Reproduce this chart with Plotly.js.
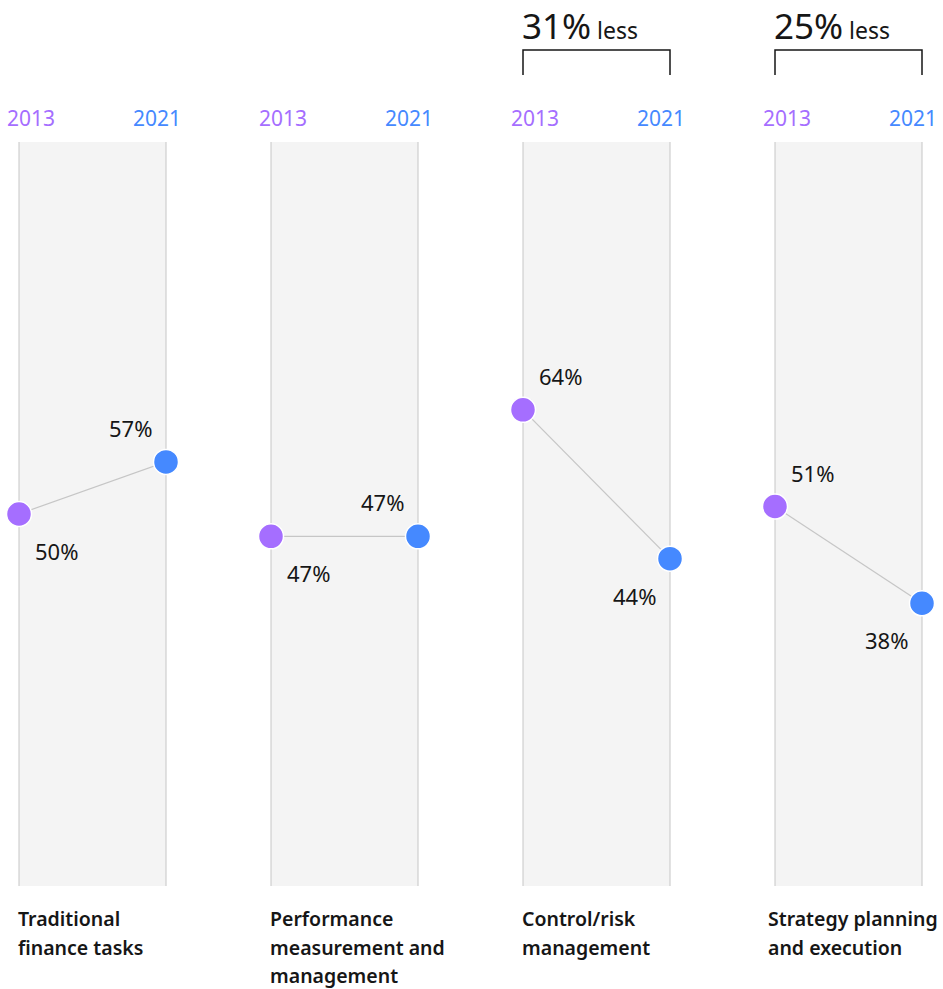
<!DOCTYPE html>
<html>
<head>
<meta charset="utf-8">
<script src="https://cdn.plot.ly/plotly-3.0.1.min.js"></script>
<style>html,body{margin:0;padding:0;background:#fff;}</style>
</head>
<body>
<div id="chart" style="width:943px;height:989px;"></div>
<script>
const categories = ['Traditional<br>finance tasks', 'Performance<br>measurement and<br>management', 'Control/risk<br>management', 'Strategy planning<br>and execution'];
const years = ['2013', '2021'];
const values2013 = [50, 47, 64, 51];
const values2021 = [57, 47, 44, 38];
const yearColors = ['#a56eff', '#4589ff'];

const FONT = 'Noto Sans, Open Sans, sans-serif';
const INK = '#161616';
const n = categories.length;
const W = 943, ML = 19, MR = 21, MT = 142, MB = 103, H = 989;
const plotW = W - ML - MR, plotH = H - MT - MB;
const panelW = 147, gap = (plotW - n * panelW) / (n - 1);

const traces = [];
const annotations = [];
const shapes = [];
const layout = {
  width: W, height: H,
  margin: {l: ML, r: MR, t: MT, b: MB, pad: 0},
  paper_bgcolor: '#ffffff',
  plot_bgcolor: '#f4f4f4',
  showlegend: false,
  font: {family: FONT, color: INK, size: 20},
  yaxis: {range: [0, 100], showgrid: false, zeroline: false, showticklabels: false, ticks: '', fixedrange: true},
  annotations: annotations,
  shapes: shapes
};

for (let i = 0; i < n; i++) {
  const ax = i === 0 ? 'x' : 'x' + (i + 1);
  const axKey = i === 0 ? 'xaxis' : 'xaxis' + (i + 1);
  const d0 = (i * (panelW + gap)) / plotW;
  const d1 = Math.min(1, (i * (panelW + gap) + panelW) / plotW);
  layout[axKey] = {
    type: 'category', categoryarray: years, categoryorder: 'array',
    range: [0, 1], domain: [d0, d1], anchor: 'y',
    showgrid: false, showticklabels: false, ticks: '', zeroline: false, showline: false, fixedrange: true
  };
  // panel edge lines at each year position
  years.forEach(function (yr, j) {
    shapes.push({type: 'line', xref: ax + ' domain', yref: 'paper', x0: j, x1: j, y0: 0, y1: 1,
      line: {color: '#c6c6c6', width: 1}, layer: 'below'});
  });
  const a = values2013[i], b = values2021[i];
  traces.push({
    type: 'scatter', mode: 'lines+markers', xaxis: ax, yaxis: 'y',
    x: years, y: [a, b],
    line: {color: '#c6c6c6', width: 1.2},
    marker: {size: 25, color: yearColors, line: {color: '#ffffff', width: 1.5}},
    cliponaxis: false, hoverinfo: 'skip'
  });
  const vals = [a, b];
  const above = [a > b, b >= a];
  const xs = [37, -36];
  const yearShift = [12, -9];
  years.forEach(function (yr, j) {
    // value label
    annotations.push({xref: ax, yref: 'y', x: j, y: vals[j], text: vals[j] + '%', showarrow: false,
      xanchor: 'center', yanchor: 'middle', xshift: xs[j], yshift: above[j] ? 34 : -37,
      font: {size: 22, color: INK}});
    // year label on top
    annotations.push({xref: ax + ' domain', yref: 'paper', x: j, y: 1, text: yr, showarrow: false,
      xanchor: 'center', yanchor: 'middle', xshift: yearShift[j], yshift: 24,
      font: {size: 21, color: yearColors[j]}});
  });
  // category label below, one annotation per line
  categories[i].split('<br>').forEach(function (line, k) {
    annotations.push({xref: ax + ' domain', yref: 'paper', x: 0, y: 0, text: line, showarrow: false,
      xanchor: 'left', yanchor: 'top', align: 'left', xshift: i === n - 1 ? -9 : -3, yshift: -17 - k * 28.5,
      font: {size: 19.5, color: INK, weight: 600}});
  });
  // decrease bracket
  if (b < a) {
    const pct = Math.round((a - b) / a * 100);
    const yTop = (H - MB - 50) / plotH, yLeg = (H - MB - 75) / plotH;
    shapes.push({type: 'path', xref: ax + ' domain', yref: 'paper',
      path: 'M0,' + yLeg + ' L0,' + yTop + ' L1,' + yTop + ' L1,' + yLeg,
      line: {color: INK, width: 1.5}});
    annotations.push({xref: ax + ' domain', yref: 'paper', x: 0, y: (H - MB - 26) / plotH,
      text: '<span style="font-size:35px">' + pct + '%</span> less', showarrow: false,
      xanchor: 'left', yanchor: 'middle', xshift: -3, font: {size: 23, color: INK}});
  }
}

Plotly.newPlot('chart', traces, layout, {displayModeBar: false, staticPlot: true});
</script>
</body>
</html>
